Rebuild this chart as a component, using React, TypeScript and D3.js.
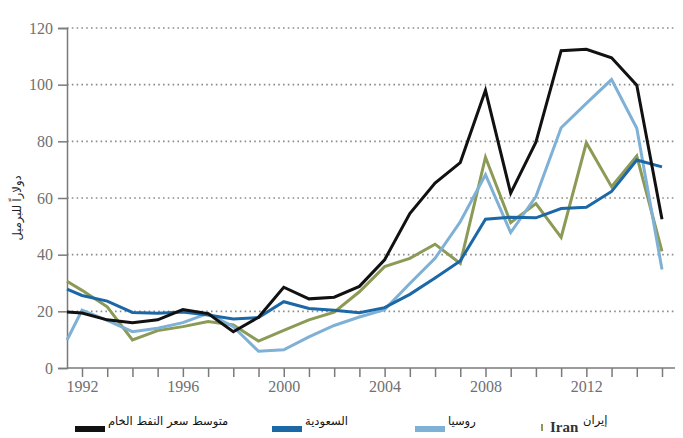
import React, { useRef, useEffect } from "react";
import * as d3 from "d3";

// years of the series (1991 sits on the y axis in the original)
const years = [
    1991, 1992, 1993, 1994, 1995, 1996, 1997, 1998, 1999, 2000, 2001, 2002,
    2003, 2004, 2005, 2006, 2007, 2008, 2009, 2010, 2011, 2012, 2013, 2014,
    2015,
];

// dollars per barrel
const crudeAvg = [
    19.8, 19.4, 17, 16, 17, 20.6, 19.2, 12.8, 17.9, 28.5, 24.4, 25, 28.8,
    38.2, 54.5, 65.3, 72.5, 98, 61.7, 79.7, 112, 112.5, 109.5, 99.8, 52.5,
];
const saudi = [
    27.8, 25.6, 23.6, 19.6, 19.3, 19.8, 18.7, 17.3, 17.8, 23.4, 21, 20.4,
    19.5, 21.3, 26, 31.8, 37.8, 52.5, 53.2, 53, 56.3, 56.7, 62.3, 73.4, 71,
];
const russia = [
    9.9, 20.4, 16.8, 12.8, 14, 16, 19.3, 14.6, 5.9, 6.4, 11, 15, 18, 20.6,
    29.8, 38.7, 51.6, 68.2, 47.8, 60.5, 84.8, 93.4, 101.8, 84.6, 34.8,
];
const iran = [
    30.6, 27.4, 21.6, 9.9, 13.2, 14.6, 16.4, 15.2, 9.5, 13.3, 17, 19.7, 26.9,
    35.8, 38.7, 43.7, 36.9, 74.4, 51.3, 58, 46.1, 79.5, 64, 74.8, 41.2,
];

const yTicks = [0, 20, 40, 60, 80, 100, 120];
const xLabels = [1992, 1996, 2000, 2004, 2008, 2012];
const yTitle = "دولاراً للبرميل";

const seriesNames = ["متوسط سعر النفط الخام", "السعودية", "روسيا", "إيران"];
const seriesColors = ["#111111", "#1c67a6", "#7fb0d6", "#8b9a55"];

export default function App() {
    const svgRef = useRef<SVGSVGElement | null>(null);

    useEffect(() => {
        if (!svgRef.current) return;

        const svg = d3.select(svgRef.current);
        svg.selectAll("*").remove();

        const x = d3
            .scaleLinear()
            .domain([1991, 1992, 2015])
            .range([67, 82, 662]);
        const y = d3.scaleLinear().domain([0, 120]).range([368, 28]);

        const serif = "'Liberation Serif', 'DejaVu Serif', serif";
        const arabic = "'DejaVu Sans', sans-serif";
        const axisGrey = "#7a7a7a";

        // dotted gridlines
        svg.append("g")
            .selectAll("line")
            .data(yTicks.filter((d) => d > 0))
            .join("line")
            .attr("x1", 67)
            .attr("x2", 674)
            .attr("y1", (d) => y(d))
            .attr("y2", (d) => y(d))
            .attr("stroke", "#8c8c8c")
            .attr("stroke-width", 1.6)
            .attr("stroke-dasharray", "1.6,3.2");

        // y axis
        const yAxis = svg
            .append("g")
            .attr("transform", "translate(67,0)")
            .call(d3.axisLeft(y).tickValues(yTicks).tickSize(9).tickPadding(5));
        yAxis.select(".domain").attr("stroke", axisGrey).attr("stroke-width", 1.5);
        yAxis.selectAll(".tick line").attr("stroke", axisGrey).attr("stroke-width", 1.5);
        yAxis
            .selectAll(".tick text")
            .attr("fill", "#707070")
            .attr("font-family", serif)
            .attr("font-size", 16);

        // x axis
        const xAxis = svg
            .append("g")
            .attr("transform", "translate(0,368)")
            .call(
                d3
                    .axisBottom(x)
                    .tickValues(years.slice(1))
                    .tickSize(9)
                    .tickPadding(4)
                    .tickFormat((d) =>
                        xLabels.includes(d as number) ? String(d) : "",
                    ),
            );
        xAxis
            .select(".domain")
            .attr("stroke", axisGrey)
            .attr("stroke-width", 1.5)
            .attr("d", "M67,0H675");
        xAxis.selectAll(".tick line").attr("stroke", axisGrey).attr("stroke-width", 1.5);
        xAxis
            .selectAll(".tick text")
            .attr("fill", "#707070")
            .attr("font-family", serif)
            .attr("font-size", 16);

        // y title
        svg.append("text")
            .attr("transform", "translate(21,208) rotate(-90)")
            .attr("text-anchor", "middle")
            .attr("font-family", arabic)
            .attr("font-size", 11.5)
            .attr("fill", "#222")
            .text(yTitle);

        // lines
        const drawOrder = [3, 2, 1, 0];
        const allSeries = [crudeAvg, saudi, russia, iran];
        const line = d3
            .line<number>()
            .x((_, i) => x(years[i]))
            .y((d) => y(d));
        drawOrder.forEach((k) => {
            svg.append("path")
                .datum(allSeries[k])
                .attr("fill", "none")
                .attr("stroke", seriesColors[k])
                .attr("stroke-width", 3)
                .attr("d", line);
        });

        // legend
        const legendX = [75, 272, 415];
        [0, 1, 2].forEach((i) => {
            svg.append("rect")
                .attr("x", legendX[i])
                .attr("y", 426)
                .attr("width", 30)
                .attr("height", 6)
                .attr("fill", seriesColors[i]);
            svg.append("text")
                .attr("x", legendX[i] + 33)
                .attr("y", 425)
                .attr("font-family", arabic)
                .attr("font-size", 11.5)
                .attr("fill", "#111")
                .text(seriesNames[i]);
        });
        svg.append("rect")
            .attr("x", 541)
            .attr("y", 424)
            .attr("width", 2)
            .attr("height", 7)
            .attr("fill", seriesColors[3]);
        svg.append("text")
            .attr("x", 550)
            .attr("y", 432)
            .attr("font-family", serif)
            .attr("font-weight", "bold")
            .attr("font-size", 15)
            .attr("fill", "#333")
            .text("Iran");
        svg.append("text")
            .attr("x", 583)
            .attr("y", 424)
            .attr("font-family", arabic)
            .attr("font-size", 11.5)
            .attr("fill", "#111")
            .text(seriesNames[3]);
    }, []);

    return (
        <svg
            ref={svgRef}
            width={683}
            height={438}
            style={{ position: "absolute", left: 0, top: 0, background: "#fff" }}
        ></svg>
    );
}
